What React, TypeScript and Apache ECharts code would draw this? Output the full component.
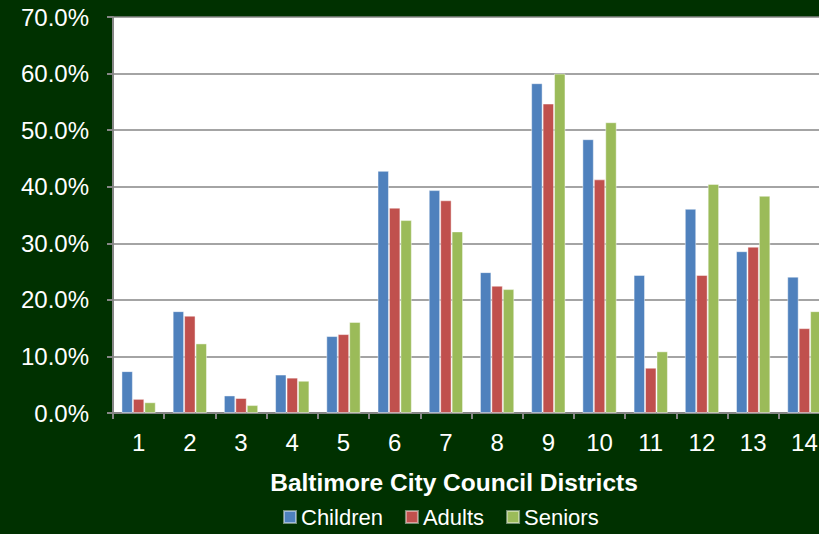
import React, { useEffect, useRef } from "react";
import * as echarts from "echarts";

const districts = ["1", "2", "3", "4", "5", "6", "7", "8", "9", "10", "11", "12", "13", "14"];
const children = [7.4, 18.0, 3.1, 6.8, 13.6, 42.8, 39.4, 24.9, 58.3, 48.4, 24.4, 36.1, 28.6, 24.1];
const adults = [2.5, 17.2, 2.65, 6.25, 13.95, 36.3, 37.6, 22.5, 54.7, 41.3, 8.0, 24.4, 29.4, 15.0];
const seniors = [1.9, 12.3, 1.4, 5.7, 16.1, 34.1, 32.1, 21.9, 60.0, 51.4, 10.9, 40.5, 38.4, 18.0];
const seriesNames = ["Children", "Adults", "Seniors"];
const colors = ["#4F81BD", "#C0504D", "#9BBB59"];
const xTitle = "Baltimore City Council Districts";

export default function App() {
  const ref = useRef<HTMLDivElement>(null);
  useEffect(() => {
    if (!ref.current) return;
    const chart = echarts.init(ref.current, null, { renderer: "svg" });
    const font = "'Liberation Sans', Arial, sans-serif";
    const data = [children, adults, seniors];
    chart.setOption({
      animation: false,
      backgroundColor: "#003100",
      textStyle: { fontFamily: font },
      title: {
        text: xTitle,
        left: 449,
        top: 465,
        textAlign: "center",
        textStyle: { color: "#fff", fontSize: 24.5, fontWeight: "bold", fontFamily: font },
      },
      legend: {
        data: seriesNames,
        left: 283,
        top: 506,
        itemWidth: 12,
        itemHeight: 12,
        itemGap: 22,
        icon: "rect",
        textStyle: { color: "#fff", fontSize: 22, fontFamily: font, padding: [0, 0, 0, 0] },
        padding: 0,
      },
      grid: {
        left: 113,
        top: 17,
        bottom: 121,
        right: 0,
        show: true,
        backgroundColor: "#ffffff",
        borderWidth: 0,
        containLabel: false,
      },
      xAxis: {
        type: "category",
        data: districts,
        axisLine: { lineStyle: { color: "#868686", width: 2 } },
        axisTick: { show: true, length: 6, lineStyle: { color: "#868686", width: 2 } },
        axisLabel: { color: "#fff", fontSize: 24, margin: 17, fontFamily: font },
      },
      yAxis: {
        type: "value",
        min: 0,
        max: 70,
        interval: 10,
        axisLine: { show: true, lineStyle: { color: "#868686", width: 2 } },
        axisTick: { show: true, length: 6, lineStyle: { color: "#868686", width: 2 } },
        splitLine: { lineStyle: { color: "#868686", width: 1.5 } },
        axisLabel: {
          color: "#fff",
          fontSize: 24,
          margin: 24,
          fontFamily: font,
          formatter: (v: number) => v.toFixed(1) + "%",
        },
      },
      series: seriesNames.map((name, i) => ({
        name,
        type: "bar",
        data: data[i],
        barGap: "0%",
        barCategoryGap: "33%",
        itemStyle: { color: colors[i], borderColor: "rgba(255,255,255,0.45)", borderWidth: 1 },
      })),
    });
    return () => chart.dispose();
  }, []);
  return (
    <div
      ref={ref}
      style={{ position: "fixed", left: 0, top: 0, width: 830, height: 534 }}
    />
  );
}
